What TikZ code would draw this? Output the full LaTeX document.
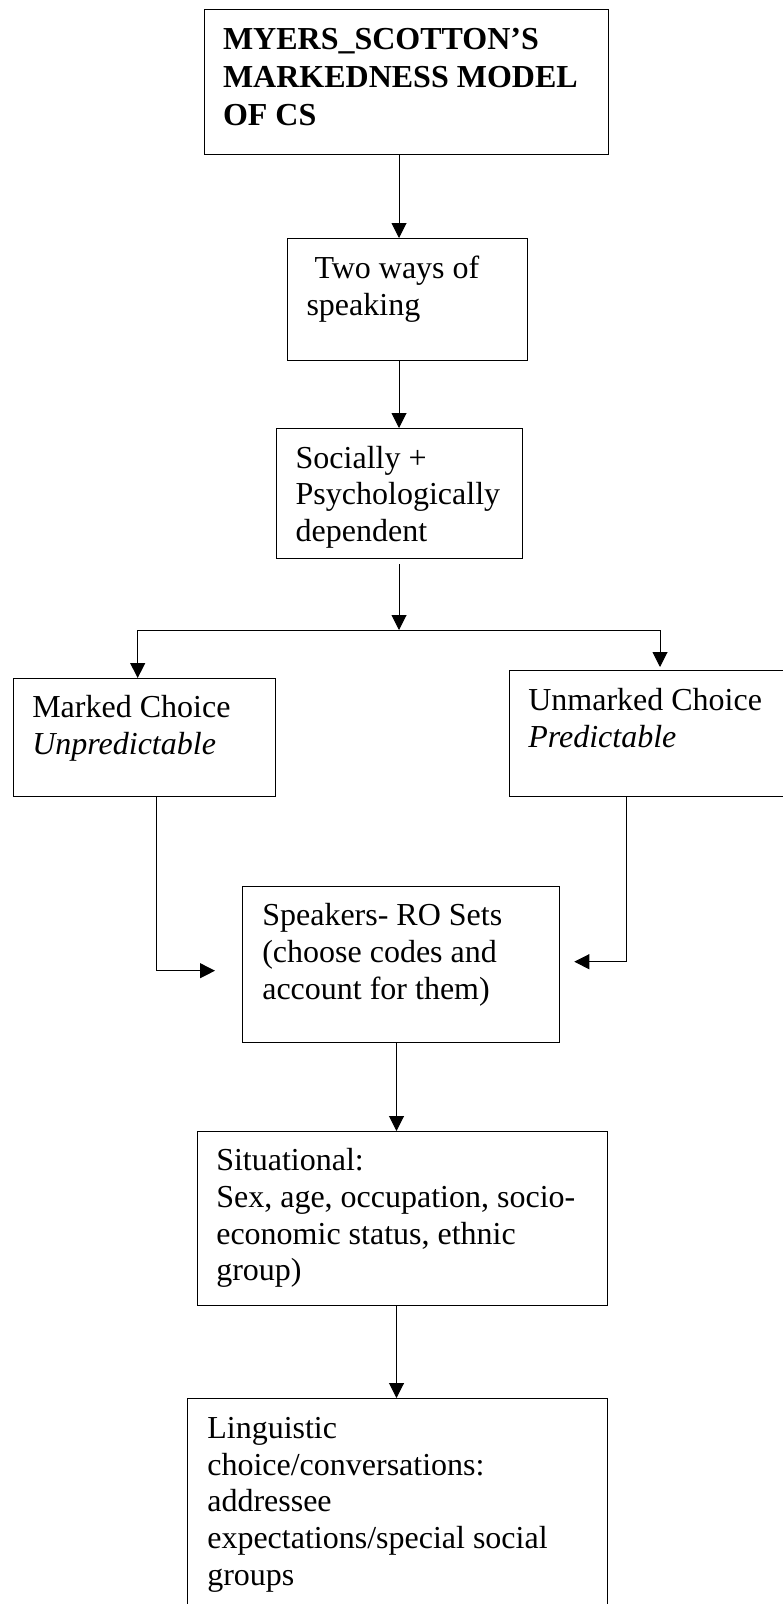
\documentclass[tikz,border=0pt]{standalone}
\usepackage{fontspec}
\setmainfont{Liberation Serif}
\usetikzlibrary{arrows.meta,calc}
\begin{document}
\begin{tikzpicture}[x=1bp,y=-1bp,
  box/.style={draw, line width=1bp, inner sep=0pt, outer sep=0pt},
  txt/.style={anchor=base west, inner sep=0pt, outer sep=0pt, font=\fontsize{32bp}{36.7bp}\selectfont},
  arr/.style={line width=1bp, -{Triangle[length=15bp,width=15bp]}}]
\clip (0,0) rectangle (783,1604);
\fill[white] (0,0) rectangle (783,1604);

% boxes
\node[box, minimum width=404bp, minimum height=144bp] (top) at (406,82) {};
\node[box, minimum width=239.5bp, minimum height=122bp] (two) at (407.25,299) {};
\node[box, minimum width=246.7bp, minimum height=130bp] (soc) at (399.35,493) {};
\node[box, minimum width=261.3bp, minimum height=118bp] (marked) at (144.65,737) {};
\node[box, minimum width=290.7bp, minimum height=126.7bp] (unmarked) at (654.65,733.35) {};
\node[box, minimum width=316.3bp, minimum height=156.7bp] (speakers) at (400.85,964.35) {};
\node[box, minimum width=410.4bp, minimum height=174bp] (situ) at (402.5,1218) {};
\node[box, minimum width=420bp, minimum height=232bp] (ling) at (397.3,1514) {};

% texts
\node[txt] (toptxt) at (223,50) {\parbox[t]{400bp}{\raggedright\bfseries\baselineskip=37.5bp MYERS\_SCOTTON’S\\MARKEDNESS MODEL\\OF CS}};
\node[txt] (twotxt) at (306.5,278.3) {\parbox[t]{400bp}{\raggedright\hspace*{0.25em}Two ways of\\speaking}};
\node[txt] (soctxt) at (295.7,468) {\parbox[t]{400bp}{\raggedright Socially +\\Psychologically\\dependent}};
\node[txt] (markedtxt) at (32.3,717.3) {\parbox[t]{400bp}{\raggedright Marked Choice\\\itshape Unpredictable}};
\node[txt] (unmarkedtxt) at (528.3,710.7) {\parbox[t]{400bp}{\raggedright Unmarked Choice\\\itshape Predictable}};
\node[txt] (speakerstxt) at (262.3,925.7) {\parbox[t]{400bp}{\raggedright Speakers- RO Sets\\(choose codes and\\account for them)}};
\node[txt] (situtxt) at (216.3,1170.7) {\parbox[t]{400bp}{\raggedright Situational:\\Sex, age, occupation, socio-\\economic status, ethnic\\group)}};
\node[txt] (lingtxt) at (207.3,1438.3) {\parbox[t]{400bp}{\raggedright Linguistic\\choice/conversations:\\addressee\\expectations/special social\\groups}};

% connectors
\coordinate (spine) at (399,0);
\coordinate (split) at (399,630);
\coordinate (lbr) at (137.7,630);
\coordinate (rbr) at (660,630);
\coordinate (lin) at (215,970.7);
\coordinate (rin) at (574.3,961.7);
\coordinate (rdrop) at (626,0);
\coordinate (spine2) at (396.5,0);

\draw[arr] (spine |- top.south) -- (spine |- two.north);
\draw[arr] (spine |- two.south) -- (spine |- soc.north);
\draw[arr] ($(spine |- soc.south)+(0,6)$) -- (split);
\draw[arr] (split) -| (lbr |- marked.north);
\draw[arr] (split) -| ($(rbr |- unmarked.north)+(0,-3)$);
\draw[arr] ($(marked.south)+(12,0)$) |- (lin);
\draw[arr] (rdrop |- unmarked.south) |- (rin);
\draw[arr] (spine2 |- speakers.south) -- (spine2 |- situ.north);
\draw[arr] (spine2 |- situ.south) -- (spine2 |- ling.north);
\end{tikzpicture}
\end{document}
